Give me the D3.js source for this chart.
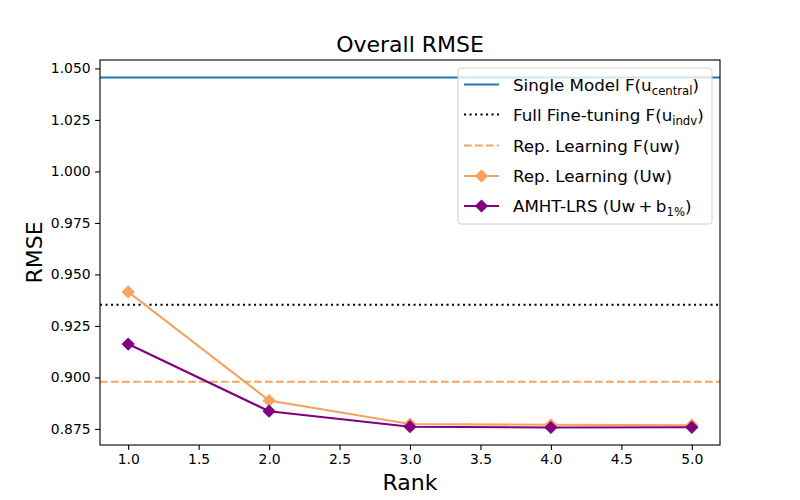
<!DOCTYPE html>
<html>
<head>
<meta charset="utf-8">
<script src="https://cdn.jsdelivr.net/npm/d3@7"></script>
<style>
  html, body { margin: 0; padding: 0; background: #fff; overflow: hidden; }
  svg { display: block; }
  text { font-family: "DejaVu Sans", sans-serif; fill: #000; }
</style>
</head>
<body>
<svg id="chart" width="800" height="500"></svg>
<script>
const ranks = [1, 2, 3, 4, 5];
const repLearningUw = [0.9415, 0.8888, 0.8774, 0.8770, 0.8768];
const amhtLrs = [0.9162, 0.8836, 0.8761, 0.8757, 0.8758];
const singleModel = 1.0456;
const fullFineTuning = 0.9353;
const repLearningF = 0.8979;
const xTicks = [1.0, 1.5, 2.0, 2.5, 3.0, 3.5, 4.0, 4.5, 5.0];
const yTicks = [0.875, 0.900, 0.925, 0.950, 0.975, 1.000, 1.025, 1.050];

const svg = d3.select("#chart");
const width = +svg.attr("width");
const height = +svg.attr("height");
const margin = { top: 60, right: 80, bottom: 55, left: 100 };
const innerWidth = width - margin.left - margin.right;
const innerHeight = height - margin.top - margin.bottom;

const blue = "#1f77b4";
const orange = "#f4a460";
const purple = "#800080";

const g = svg.append("g")
  .attr("transform", `translate(${margin.left},${margin.top})`);

// matplotlib style 5% margins
const allY = repLearningUw.concat(amhtLrs, [singleModel, fullFineTuning, repLearningF]);
const yMin = d3.min(allY), yMax = d3.max(allY);
const yPad = (yMax - yMin) * 0.05;

const x = d3.scaleLinear()
  .domain([0.8, 5.2])
  .range([0, innerWidth]);

const y = d3.scaleLinear()
  .domain([yMin - yPad, yMax + yPad])
  .range([innerHeight, 0]);

const xAxis = g.append("g")
  .attr("transform", `translate(0,${innerHeight})`)
  .call(d3.axisBottom(x).tickValues(xTicks).tickFormat(d3.format(".1f")).tickSizeOuter(0).tickSize(4.9).tickPadding(4.5));

const yAxis = g.append("g")
  .call(d3.axisLeft(y).tickValues(yTicks).tickFormat(d3.format(".3f")).tickSizeOuter(0).tickSize(4.9).tickPadding(4.5));

[xAxis, yAxis].forEach(a => {
  a.select(".domain").remove();
  a.selectAll("line").attr("stroke", "#000").attr("stroke-width", 1.1);
  a.selectAll("text").style("font-family", "DejaVu Sans").style("font-size", "13.9px").attr("fill", "#000");
});

// horizontal reference lines
g.append("line")
  .attr("x1", 0).attr("x2", innerWidth)
  .attr("y1", y(singleModel)).attr("y2", y(singleModel))
  .attr("stroke", blue).attr("stroke-width", 2.1);

g.append("line")
  .attr("x1", 0).attr("x2", innerWidth)
  .attr("y1", y(fullFineTuning)).attr("y2", y(fullFineTuning))
  .attr("stroke", "#000").attr("stroke-width", 2.1)
  .attr("stroke-dasharray", "2.1,3.4");

g.append("line")
  .attr("x1", 0).attr("x2", innerWidth)
  .attr("y1", y(repLearningF)).attr("y2", y(repLearningF))
  .attr("stroke", orange).attr("stroke-width", 2.1)
  .attr("stroke-dasharray", "7.7,3.3");

const line = d3.line()
  .x(d => x(d[0]))
  .y(d => y(d[1]));

const diamond = d3.symbol().type(d3.symbolSquare).size(70);

function drawSeries(values, color) {
  const pts = ranks.map((r, i) => [r, values[i]]);
  g.append("path")
    .datum(pts)
    .attr("fill", "none")
    .attr("stroke", color)
    .attr("stroke-width", 2.1)
    .attr("d", line);
  g.selectAll(null)
    .data(pts)
    .enter()
    .append("path")
    .attr("d", diamond)
    .attr("transform", d => `translate(${x(d[0])},${y(d[1])}) rotate(45)`)
    .attr("fill", color)
    .attr("stroke", color)
    .attr("stroke-width", 1);
}

drawSeries(repLearningUw, orange);
drawSeries(amhtLrs, purple);

// axes frame
g.append("rect")
  .attr("width", innerWidth)
  .attr("height", innerHeight)
  .attr("fill", "none")
  .attr("stroke", "#000")
  .attr("stroke-width", 1.1);

// legend
const legend = svg.append("g").attr("transform", "translate(458,68)");
legend.append("rect")
  .attr("width", 254).attr("height", 156)
  .attr("rx", 3).attr("ry", 3)
  .attr("fill", "#fff").attr("fill-opacity", 0.8)
  .attr("stroke", "#d0d0d0").attr("stroke-width", 1);

const legendItems = [
  { main: "Single Model F(u", sub: "central", tail: ")", color: blue, dash: null, marker: false },
  { main: "Full Fine-tuning F(u", sub: "indv", tail: ")", color: "#000", dash: "2.1,3.4", marker: false },
  { main: "Rep. Learning F(uw)", sub: null, tail: "", color: orange, dash: "7.7,3.3", marker: false },
  { main: "Rep. Learning (Uw)", sub: null, tail: "", color: orange, dash: null, marker: true },
  { main: "AMHT-LRS (Uw\u2009+\u2009b", sub: "1%", tail: ")", color: purple, dash: null, marker: true }
];
const rowY = [16.5, 46.5, 77.5, 108, 138];

legendItems.forEach((item, i) => {
  const row = legend.append("g").attr("transform", `translate(0,${rowY[i]})`);
  row.append("line")
    .attr("x1", 6).attr("x2", 41)
    .attr("stroke", item.color).attr("stroke-width", 2.1)
    .attr("stroke-dasharray", item.dash);
  if (item.marker) {
    row.append("path")
      .attr("d", diamond)
      .attr("transform", "translate(23.5,0) rotate(45)")
      .attr("fill", item.color).attr("stroke", item.color);
  }
  const t = row.append("text")
    .attr("x", 55).attr("y", 6)
    .style("font-size", "16.7px");
  t.append("tspan").text(item.main);
  if (item.sub) {
    t.append("tspan").attr("dy", 4).style("font-size", "11.7px").text(item.sub);
    t.append("tspan").attr("dy", -4).text(item.tail);
  }
});

// title and axis labels
svg.append("text")
  .attr("x", margin.left + innerWidth / 2)
  .attr("y", 52)
  .attr("text-anchor", "middle")
  .style("font-size", "22px")
  .text("Overall RMSE");

svg.append("text")
  .attr("x", margin.left + innerWidth / 2)
  .attr("y", 490)
  .attr("text-anchor", "middle")
  .style("font-size", "22px")
  .text("Rank");

svg.append("text")
  .attr("transform", "rotate(-90)")
  .attr("x", -(margin.top + innerHeight / 2))
  .attr("y", 42)
  .attr("text-anchor", "middle")
  .style("font-size", "22px")
  .text("RMSE");
</script>
</body>
</html>
